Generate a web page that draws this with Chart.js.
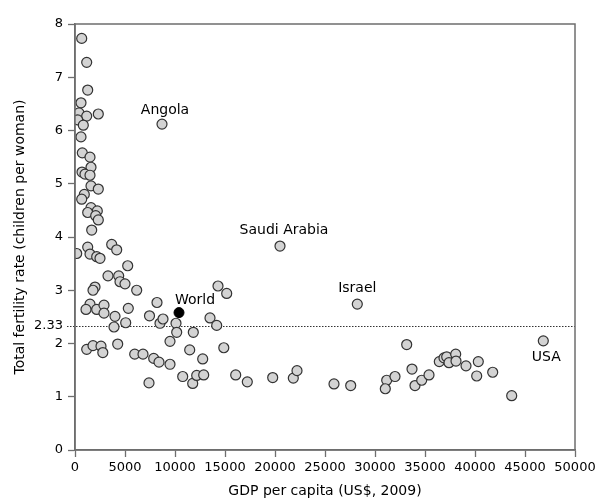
<!DOCTYPE html>
<html><head><meta charset="utf-8">
<script src="https://cdn.jsdelivr.net/npm/chart.js@4"></script>
<style>html,body{margin:0;padding:0;background:#fff}#wrap{width:600px;height:500px}</style>
</head><body><div id="wrap"><canvas id="c" width="600" height="500"></canvas></div>
<script>
// GDP per capita (US$, 2009) and total fertility rate, one entry per country
const gdp = [670,1170,1270,600,400,1170,2330,270,830,600,
  730,1500,1600,700,1000,1500,1600,2330,930,670,
  1600,2230,1270,2070,2330,1670,3670,4170,170,1270,
  1500,2170,2500,5270,3300,4370,4500,5000,6170,2000,
  1800,1500,1100,2170,2900,2900,4000,3900,5070,5330,
  8200,7450,8500,8800,10100,10170,9500,11830,13500,14170,
  14880,15170,14300,1170,1800,2600,2780,4270,5970,6800,
  7870,8400,9500,7400,10770,11770,12170,12870,12770,11470,
  16070,17230,19770,21830,22200,25900,27570,33170,31170,32000,
  31030,33700,34000,34670,35400,36430,36900,37170,37400,38070,
  38100,39100,40330,40170,41770,43670];
const fertility = [7.73,7.28,6.76,6.52,6.33,6.27,6.31,6.20,6.10,5.88,
  5.58,5.50,5.31,5.22,5.18,5.16,4.96,4.90,4.80,4.71,
  4.55,4.49,4.46,4.40,4.32,4.13,3.86,3.76,3.69,3.81,
  3.68,3.63,3.60,3.46,3.27,3.27,3.16,3.12,3.00,3.06,
  3.00,2.74,2.64,2.64,2.72,2.57,2.51,2.31,2.39,2.66,
  2.77,2.52,2.38,2.46,2.38,2.21,2.04,2.21,2.48,2.34,
  1.92,2.94,3.08,1.89,1.96,1.95,1.83,1.99,1.80,1.80,
  1.72,1.65,1.61,1.26,1.38,1.25,1.40,1.41,1.71,1.88,
  1.41,1.28,1.36,1.35,1.49,1.24,1.21,1.98,1.31,1.38,
  1.15,1.52,1.21,1.31,1.41,1.66,1.73,1.75,1.64,1.80,
  1.67,1.58,1.66,1.39,1.46,1.02];
// labelled countries
const labelNames = ['Angola','Saudi Arabia','Israel','USA'];
const labelGdp = [8700,20500,28230,46830];
const labelFert = [6.12,3.83,2.74,2.05];
// world average
const worldGdp = [10400];
const worldFert = [2.58];
const replacementRate = 2.33;
const xTicks = [0,5000,10000,15000,20000,25000,30000,35000,40000,45000,50000];
const yTicks = [0,1,2,2.33,3,4,5,6,7,8];

const FONT = 'DejaVu Sans';
const toPts = (xs, ys) => xs.map((x, i) => ({x: x, y: ys[i]}));

const labelOffsets = {'Angola':[3,-14],'Saudi Arabia':[4,-16],'Israel':[0,-16],'USA':[3,17],'World':[16,-12]};

const decor = {
  id: 'decor',
  beforeDatasetsDraw(chart) {
    const {ctx, chartArea: a, scales} = chart;
    const y = scales.y.getPixelForValue(replacementRate);
    ctx.save();
    ctx.strokeStyle = '#333';
    ctx.lineWidth = 1;
    ctx.setLineDash([1.5, 1.5]);
    ctx.beginPath();
    ctx.moveTo(a.left - 8, Math.round(y) + 0.5);
    ctx.lineTo(a.right, Math.round(y) + 0.5);
    ctx.stroke();
    ctx.restore();
  },
  afterDatasetsDraw(chart) {
    const {ctx, chartArea: a, scales} = chart;
    ctx.save();
    ctx.strokeStyle = '#6e6e6e';
    ctx.lineWidth = 1.5;
    ctx.strokeRect(a.left, a.top, a.right - a.left, a.bottom - a.top);
    ctx.fillStyle = '#000';
    ctx.font = '14px "' + FONT + '"';
    ctx.textAlign = 'center';
    ctx.textBaseline = 'middle';
    const names = labelNames.concat(['World']);
    const xs = labelGdp.concat(worldGdp);
    const ys = labelFert.concat(worldFert);
    names.forEach((n, i) => {
      const px = scales.x.getPixelForValue(xs[i]);
      const py = scales.y.getPixelForValue(ys[i]);
      const o = labelOffsets[n];
      ctx.fillText(n, px + o[0], py + o[1]);
    });
    ctx.restore();
  }
};

const pointStyle = {
  pointRadius: 5, pointHoverRadius: 5,
  backgroundColor: '#d3d3d3', borderColor: '#333', borderWidth: 1.2
};

new Chart(document.getElementById('c'), {
  type: 'scatter',
  data: {
    datasets: [
      Object.assign({label: 'Countries', data: toPts(gdp, fertility)}, pointStyle),
      Object.assign({label: 'Labelled', data: toPts(labelGdp, labelFert)}, pointStyle),
      {label: 'World', data: toPts(worldGdp, worldFert), pointRadius: 5, pointHoverRadius: 5,
       backgroundColor: '#000', borderColor: '#000', borderWidth: 1}
    ]
  },
  options: {
    responsive: false,
    animation: false,
    devicePixelRatio: 1,
    layout: {padding: {top: 24, right: 25, left: 0, bottom: 0}},
    plugins: {legend: {display: false}, tooltip: {enabled: false}},
    scales: {
      x: {
        type: 'linear', min: 0, max: 50000,
        afterBuildTicks: s => { s.ticks = xTicks.map(v => ({value: v})); },
        afterFit: s => { s.height = 50; },
        ticks: {autoSkip: false, maxRotation: 0, padding: 3, color: '#000',
          font: {family: FONT, size: 13}, callback: v => String(v)},
        grid: {drawOnChartArea: false, tickLength: 7, tickColor: '#6e6e6e', tickWidth: 1.3},
        border: {display: true, color: '#6e6e6e', width: 1.5},
        title: {display: true, text: 'GDP per capita (US$, 2009)', color: '#000',
          font: {family: FONT, size: 14}, padding: {top: 0, bottom: 0}}
      },
      y: {
        type: 'linear', min: 0, max: 8,
        afterBuildTicks: s => { s.ticks = yTicks.map(v => ({value: v})); },
        afterFit: s => { s.width = 75; },
        ticks: {autoSkip: false, padding: 5, color: '#000',
          font: {family: FONT, size: 13}, callback: v => String(v)},
        grid: {drawOnChartArea: false, tickLength: 7, tickWidth: 1.3,
          tickColor: c => (c.tick && c.tick.value === replacementRate) ? 'rgba(0,0,0,0)' : '#6e6e6e'},
        border: {display: true, color: '#6e6e6e', width: 1.5},
        title: {display: true, text: 'Total fertility rate (children per woman)', color: '#000',
          font: {family: FONT, size: 14}, padding: {top: 12, bottom: 0}}
      }
    }
  },
  plugins: [decor]
});
</script>
</body></html>
